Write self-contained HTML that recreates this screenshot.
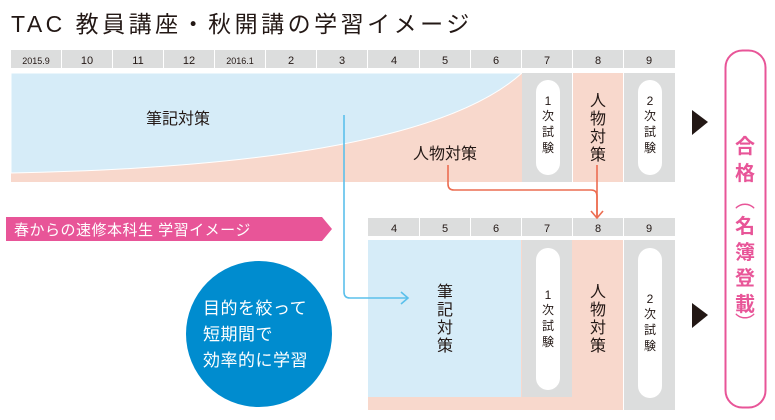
<!DOCTYPE html>
<html><head><meta charset="utf-8"><style>
body{margin:0;background:#fff;}
svg{display:block;}
text{font-family:"Liberation Sans","Noto Sans CJK JP",sans-serif;}
</style></head><body>
<svg width="775" height="420" viewBox="0 0 775 420" xmlns="http://www.w3.org/2000/svg">
<text x="11" y="32" font-size="23" fill="#231815" letter-spacing="3.5">TAC 教員講座・秋開講の学習イメージ</text>
<!-- top header -->
<g fill="#dcdddd">
<rect x="11" y="50" width="50" height="18"/><rect x="62" y="50" width="50" height="18"/><rect x="113" y="50" width="50" height="18"/><rect x="164" y="50" width="50" height="18"/><rect x="215" y="50" width="50" height="18"/><rect x="266" y="50" width="50" height="18"/><rect x="317" y="50" width="50" height="18"/><rect x="368" y="50" width="51" height="18"/><rect x="420" y="50" width="50" height="18"/><rect x="471" y="50" width="50" height="18"/><rect x="522" y="50" width="50" height="18"/><rect x="573" y="50" width="50" height="18"/><rect x="624" y="50" width="51" height="18"/>
</g>
<g font-size="11" fill="#231815" text-anchor="middle">
<text x="36" y="64" font-size="9">2015.9</text><text x="87" y="64">10</text><text x="138" y="64">11</text><text x="189" y="64">12</text><text x="240" y="64" font-size="9">2016.1</text><text x="291" y="64">2</text><text x="342" y="64">3</text><text x="394" y="64">4</text><text x="445" y="64">5</text><text x="496" y="64">6</text><text x="547" y="64">7</text><text x="598" y="64">8</text><text x="649" y="64">9</text>
</g>
<!-- top body -->
<rect x="11" y="73" width="511" height="109" fill="#f8d8cc"/>
<path d="M11 73 H522 Q420 165 11 173 Z" fill="#d6ecf8" stroke="#fff" stroke-width="1"/>
<rect x="522" y="73" width="50" height="109" fill="#dcdddd"/>
<rect x="573" y="73" width="50" height="109" fill="#f8d8cc"/>
<rect x="624" y="73" width="51" height="109" fill="#dcdddd"/>
<rect x="536" y="80" width="24" height="95" rx="12" fill="#fff"/>
<rect x="638" y="80" width="24" height="95" rx="12" fill="#fff"/>
<text x="146" y="124" font-size="16" fill="#231815">筆記対策</text>
<text x="413" y="159" font-size="16" fill="#231815">人物対策</text>
<g font-size="12" fill="#231815" text-anchor="middle">
<text x="548" y="105">1</text><text x="548" y="120">次</text><text x="548" y="136">試</text><text x="548" y="152">験</text>
<text x="650" y="105">2</text><text x="650" y="120">次</text><text x="650" y="136">試</text><text x="650" y="152">験</text>
</g>
<g font-size="16" fill="#231815" text-anchor="middle">
<text x="598" y="106">人</text><text x="598" y="124">物</text><text x="598" y="142">対</text><text x="598" y="160">策</text>
</g>
<!-- banner -->
<path d="M6 217 H322 L332 229 L322 241 H6 Z" fill="#e85598"/>
<text x="14" y="235" font-size="15" fill="#fff" letter-spacing="0.5">春からの速修本科生 学習イメージ</text>
<!-- circle -->
<circle cx="259" cy="334" r="73" fill="#008ccf"/>
<g font-size="17" fill="#fff" letter-spacing="0.5">
<text x="203" y="314">目的を絞って</text><text x="203" y="340">短期間で</text><text x="203" y="366">効率的に学習</text>
</g>
<!-- second header -->
<g fill="#dcdddd">
<rect x="368" y="218" width="51" height="18"/><rect x="420" y="218" width="50" height="18"/><rect x="471" y="218" width="50" height="18"/><rect x="522" y="218" width="50" height="18"/><rect x="573" y="218" width="50" height="18"/><rect x="624" y="218" width="51" height="18"/>
</g>
<g font-size="11" fill="#231815" text-anchor="middle">
<text x="394" y="232">4</text><text x="445" y="232">5</text><text x="496" y="232">6</text><text x="547" y="232">7</text><text x="598" y="232">8</text><text x="649" y="232">9</text>
</g>
<rect x="368" y="240" width="255" height="170" fill="#f8d8cc"/>
<rect x="368" y="240" width="153" height="157" fill="#d6ecf8"/>
<rect x="522" y="240" width="50" height="157" fill="#dcdddd"/>
<rect x="624" y="240" width="51" height="170" fill="#dcdddd"/>
<rect x="536" y="248" width="24" height="142" rx="12" fill="#fff"/>
<rect x="638" y="248" width="24" height="150" rx="12" fill="#fff"/>
<g font-size="16" fill="#231815" text-anchor="middle">
<text x="445" y="297">筆</text><text x="445" y="315">記</text><text x="445" y="333">対</text><text x="445" y="351">策</text>
<text x="598" y="297">人</text><text x="598" y="315">物</text><text x="598" y="333">対</text><text x="598" y="351">策</text>
</g>
<g font-size="12" fill="#231815" text-anchor="middle">
<text x="548" y="299">1</text><text x="548" y="314">次</text><text x="548" y="330">試</text><text x="548" y="346">験</text>
<text x="650" y="303">2</text><text x="650" y="318">次</text><text x="650" y="334">試</text><text x="650" y="350">験</text>
</g>
<!-- connectors -->
<path d="M344 115 V292 Q344 298 350 298 H407" fill="none" stroke="#5bc0eb" stroke-width="1.6"/>
<path d="M401 292 L408 298 L401 304" fill="none" stroke="#5bc0eb" stroke-width="1.6"/>
<path d="M448 165 V184 Q448 190 454 190 H591 Q597 190 597 196 V217" fill="none" stroke="#ec6d51" stroke-width="1.6"/>
<path d="M597 165 V217" fill="none" stroke="#ec6d51" stroke-width="1.6"/>
<path d="M591 211 L597 218 L603 211" fill="none" stroke="#ec6d51" stroke-width="1.6"/>
<!-- triangles -->
<path d="M692 110 L708 122 L692 135 Z" fill="#231815"/>
<path d="M692 303 L708 315 L692 328 Z" fill="#231815"/>
<!-- result -->
<rect x="725.5" y="50.5" width="40" height="357" rx="17" fill="none" stroke="#e85598" stroke-width="2"/>
<g font-size="20" fill="#e85598" text-anchor="middle" font-weight="bold">
<text x="745" y="153">合</text><text x="745" y="180">格</text><text x="745" y="207" font-weight="normal">︵</text><text x="745" y="233">名</text><text x="745" y="259">簿</text><text x="745" y="285">登</text><text x="745" y="311">載</text><text x="745" y="330" font-weight="normal">︶</text>
</g>
</svg>
</body></html>
